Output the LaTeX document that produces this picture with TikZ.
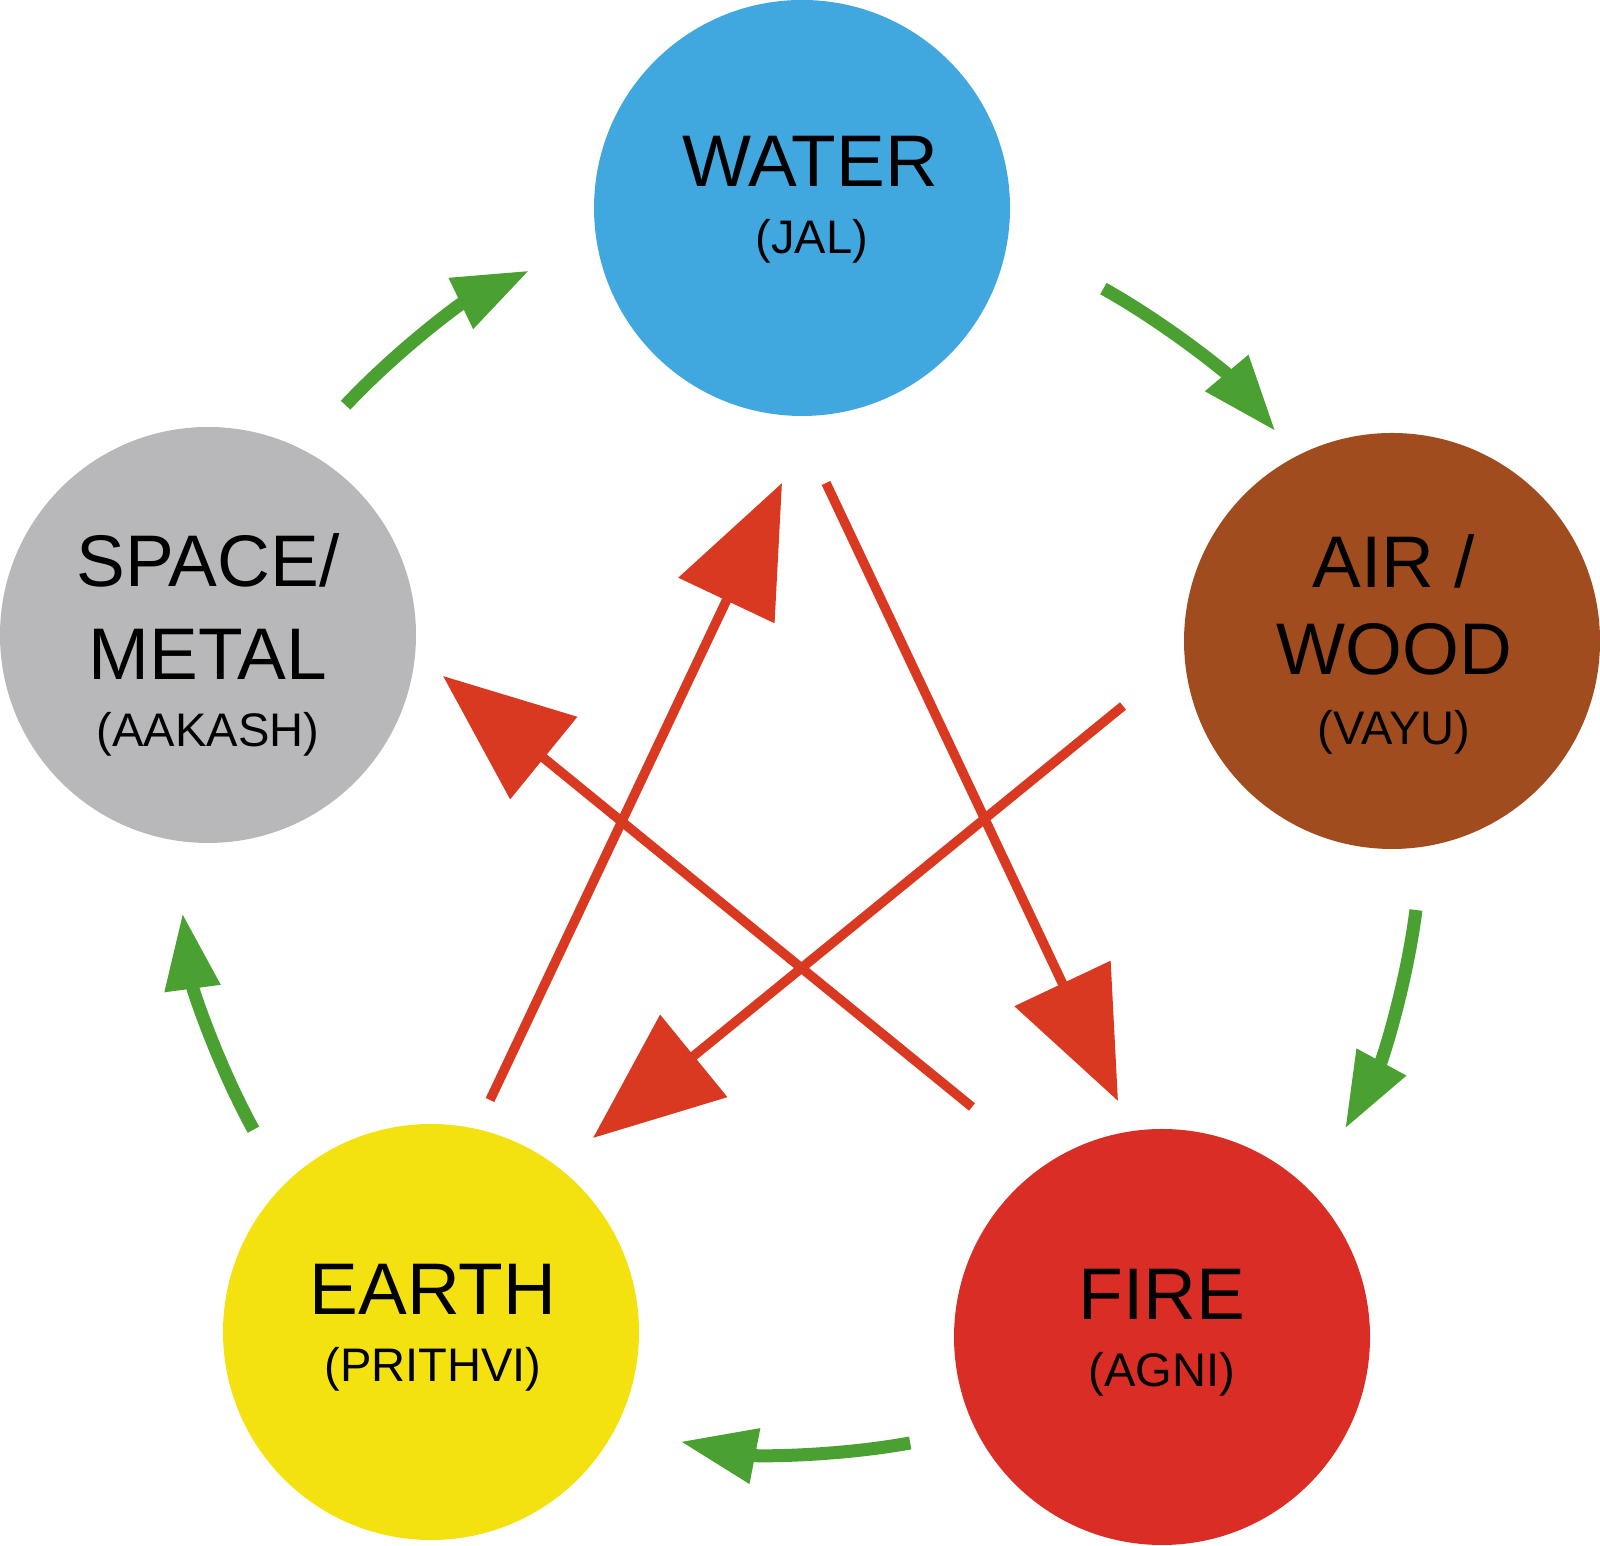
\documentclass[tikz,border=0pt]{standalone}
\usepackage{fontspec}
\setmainfont{Liberation Sans}
\usepackage{tikz}
\usetikzlibrary{arrows.meta}

\definecolor{waterblue}{RGB}{65,168,223}
\definecolor{spacegray}{RGB}{184,183,186}
\definecolor{airbrown}{RGB}{160,76,30}
\definecolor{earthyellow}{RGB}{243,226,15}
\definecolor{firered}{RGB}{218,45,38}
\definecolor{cyclegreen}{RGB}{75,160,50}
\definecolor{checkred}{RGB}{217,57,33}

\begin{document}
\begin{tikzpicture}[
  element/.style={circle, minimum size=4.16cm, inner sep=0pt},
  bigname/.style={anchor=base, inner sep=0pt, font=\fontsize{20.8}{24}\selectfont},
  altname/.style={anchor=base, inner sep=0pt, font=\fontsize{13.4}{16}\selectfont},
  feeds/.style={draw=cyclegreen, line width=0.13cm, -{Triangle[length=0.76cm, width=0.53cm]}},
  checks/.style={draw=checkred, line width=0.095cm, -{Triangle[length=1.30cm, width=1.04cm]}}]
  \useasboundingbox (0,0) rectangle (16,15.45);
  % the five elements
  \node[element, fill=waterblue] (water) at (8.02,13.37) {};
  \node[element, fill=spacegray] (space) at (2.08,9.10) {};
  \node[element, fill=airbrown] (air) at (13.92,9.04) {};
  \node[element, fill=earthyellow] (earth) at (4.31,2.13) {};
  \node[element, fill=firered] (fire) at (11.62,2.08) {};
  % names
  \node[bigname] (water-name) at ([shift={(0.08,0.21)}]water.center) {WATER};
  \node[altname] (water-alt) at ([shift={(0.10,-0.46)}]water.center) {(JAL)};
  \node[bigname] (space-name) at ([shift={(0,0.48)}]space.center) {SPACE/};
  \node[bigname] (space-name2) at ([shift={(0,-0.45)}]space.center) {METAL};
  \node[altname] (space-alt) at ([shift={(0,-1.12)}]space.center) {(AAKASH)};
  \node[bigname] (air-name) at ([shift={(0.02,0.53)}]air.center) {AIR /};
  \node[bigname] (air-name2) at ([shift={(0.02,-0.34)}]air.center) {WOOD};
  \node[altname] (air-alt) at ([shift={(0.02,-1.04)}]air.center) {(VAYU)};
  \node[bigname] (earth-name) at ([shift={(0.02,0.17)}]earth.center) {EARTH};
  \node[altname] (earth-alt) at ([shift={(0.02,-0.50)}]earth.center) {(PRITHVI)};
  \node[bigname] (fire-name) at ([shift={(0,0.17)}]fire.center) {FIRE};
  \node[altname] (fire-alt) at ([shift={(0,-0.50)}]fire.center) {(AGNI)};
  % outer cycle
  \coordinate (hub) at (7.99,7.14);
  \foreach \a/\b in {136.8/115.7, 60.7/40.0, -7.3/-28.6, -79.7/-101.0, -151.3/-172.4}
    \draw[feeds] ([shift={(\a:6.22)}]hub) arc[start angle=\a, end angle=\b, radius=6.22];
  % inner arrows
  \coordinate (ew-tail) at (4.90,4.45);
  \coordinate (ew-tip) at (7.82,10.62);
  \coordinate (wf-tail) at (8.26,10.62);
  \coordinate (wf-tip) at (11.18,4.44);
  \coordinate (ae-tail) at (11.23,8.39);
  \coordinate (ae-tip) at (5.93,4.07);
  \coordinate (fs-tail) at (9.72,4.38);
  \coordinate (fs-tip) at (4.43,8.69);
  \draw[checks] (ew-tail) -- (ew-tip);
  \draw[checks] (wf-tail) -- (wf-tip);
  \draw[checks] (ae-tail) -- (ae-tip);
  \draw[checks] (fs-tail) -- (fs-tip);
\end{tikzpicture}
\end{document}
